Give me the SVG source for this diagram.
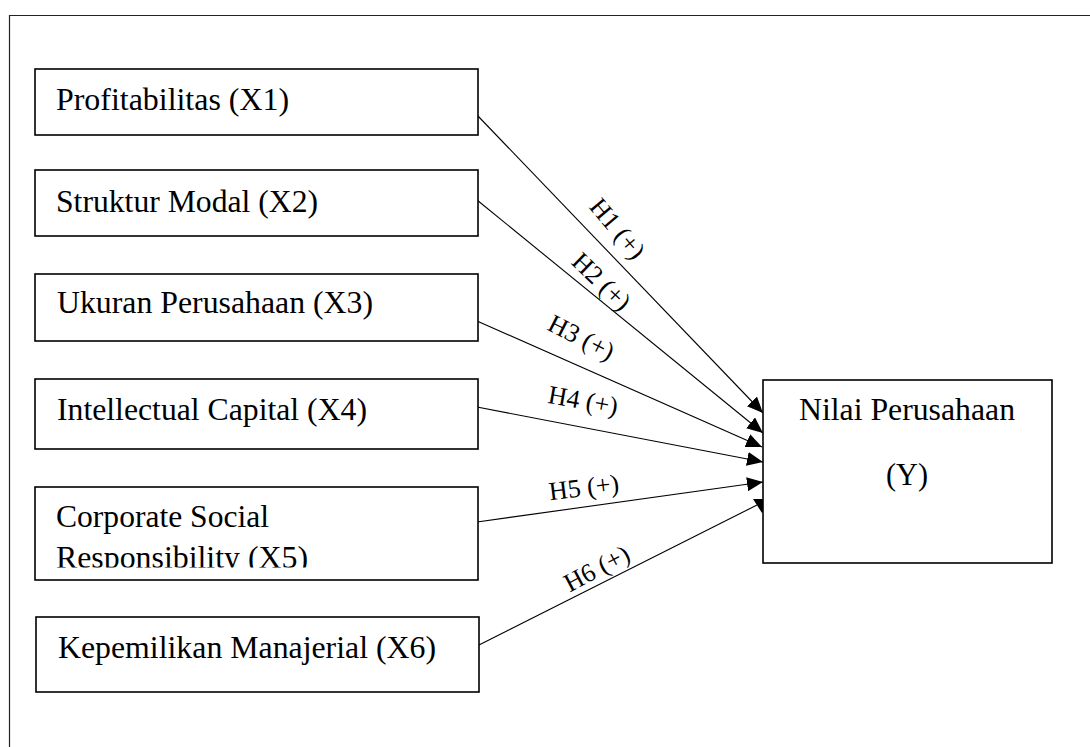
<svg xmlns="http://www.w3.org/2000/svg" width="1090" height="747" viewBox="0 0 1090 747">
<style>
.box{fill:#fff;stroke:#000;stroke-width:1.6}
.t{font-family:"Liberation Serif","Times New Roman",Times,serif;font-size:32px;fill:#000}
.lbl{font-family:"Liberation Serif","Times New Roman",Times,serif;font-size:26px;fill:#000;text-anchor:middle}
.con{stroke:#000;stroke-width:1.1;fill:none}
</style>
<defs>
<marker id="ah" markerUnits="userSpaceOnUse" markerWidth="16" markerHeight="14" refX="16" refY="7" orient="auto">
<path d="M0,0 L16,7 L0,14 z" fill="#000"/>
</marker>
<clipPath id="c5"><rect x="35" y="487" width="443" height="80.5"/></clipPath>
</defs>
<rect width="1090" height="747" fill="#fff"/>
<path id="frame" d="M9.5,747 V15.5 H1090" fill="none" stroke="#222" stroke-width="1.2"/>

<g id="connectors">
<line class="con" x1="477" y1="115" x2="763" y2="413" marker-end="url(#ah)"/>
<line class="con" x1="477" y1="200" x2="763" y2="433" marker-end="url(#ah)"/>
<line class="con" x1="477" y1="321" x2="762" y2="447" marker-end="url(#ah)"/>
<line class="con" x1="477" y1="407" x2="763" y2="462" marker-end="url(#ah)"/>
<line class="con" x1="477" y1="522" x2="763" y2="482" marker-end="url(#ah)"/>
<line class="con" x1="479" y1="645" x2="757" y2="505"/>
<polygon points="753,499 771,499 762,513" fill="#000"/>
<text class="lbl" transform="translate(617,229) rotate(50)" y="8">H1 (+)</text>
<text class="lbl" transform="translate(601,282) rotate(44)" y="8">H2 (+)</text>
<text class="lbl" transform="translate(581,338) rotate(27)" y="8">H3 (+)</text>
<text class="lbl" transform="translate(583,401) rotate(10)" y="8">H4 (+)</text>
<text class="lbl" transform="translate(584,488) rotate(-7)" y="8">H5 (+)</text>
<text class="lbl" transform="translate(597,569) rotate(-28)" y="8">H6 (+)</text>
</g>

<g id="x1">
<rect class="box" x="35" y="69" width="443" height="66"/>
<text class="t" x="56" y="110" textLength="233" lengthAdjust="spacingAndGlyphs">Profitabilitas (X1)</text>
</g>
<g id="x2">
<rect class="box" x="35" y="170" width="443" height="66"/>
<text class="t" x="56" y="212" textLength="262" lengthAdjust="spacingAndGlyphs">Struktur Modal (X2)</text>
</g>
<g id="x3">
<rect class="box" x="35" y="274" width="443" height="67"/>
<text class="t" x="57" y="313" textLength="316" lengthAdjust="spacingAndGlyphs">Ukuran Perusahaan (X3)</text>
</g>
<g id="x4">
<rect class="box" x="35" y="379" width="443" height="70"/>
<text class="t" x="57" y="420" textLength="310" lengthAdjust="spacingAndGlyphs">Intellectual Capital (X4)</text>
</g>
<g id="x5">
<rect class="box" x="35" y="487" width="443" height="93"/>
<g clip-path="url(#c5)">
<text class="t" x="56" y="527" textLength="213" lengthAdjust="spacingAndGlyphs">Corporate Social</text>
<text class="t" x="56" y="568" textLength="252" lengthAdjust="spacingAndGlyphs">Responsibility (X5)</text>
</g>
</g>
<g id="x6">
<rect class="box" x="36" y="617" width="443" height="75"/>
<text class="t" x="58" y="658" textLength="378" lengthAdjust="spacingAndGlyphs">Kepemilikan Manajerial (X6)</text>
</g>
<g id="y">
<rect class="box" x="763" y="380" width="289" height="183"/>
<text class="t" x="799" y="420" textLength="216" lengthAdjust="spacingAndGlyphs">Nilai Perusahaan</text>
<text class="t" x="886" y="485" textLength="42" lengthAdjust="spacingAndGlyphs">(Y)</text>
</g>
</svg>
